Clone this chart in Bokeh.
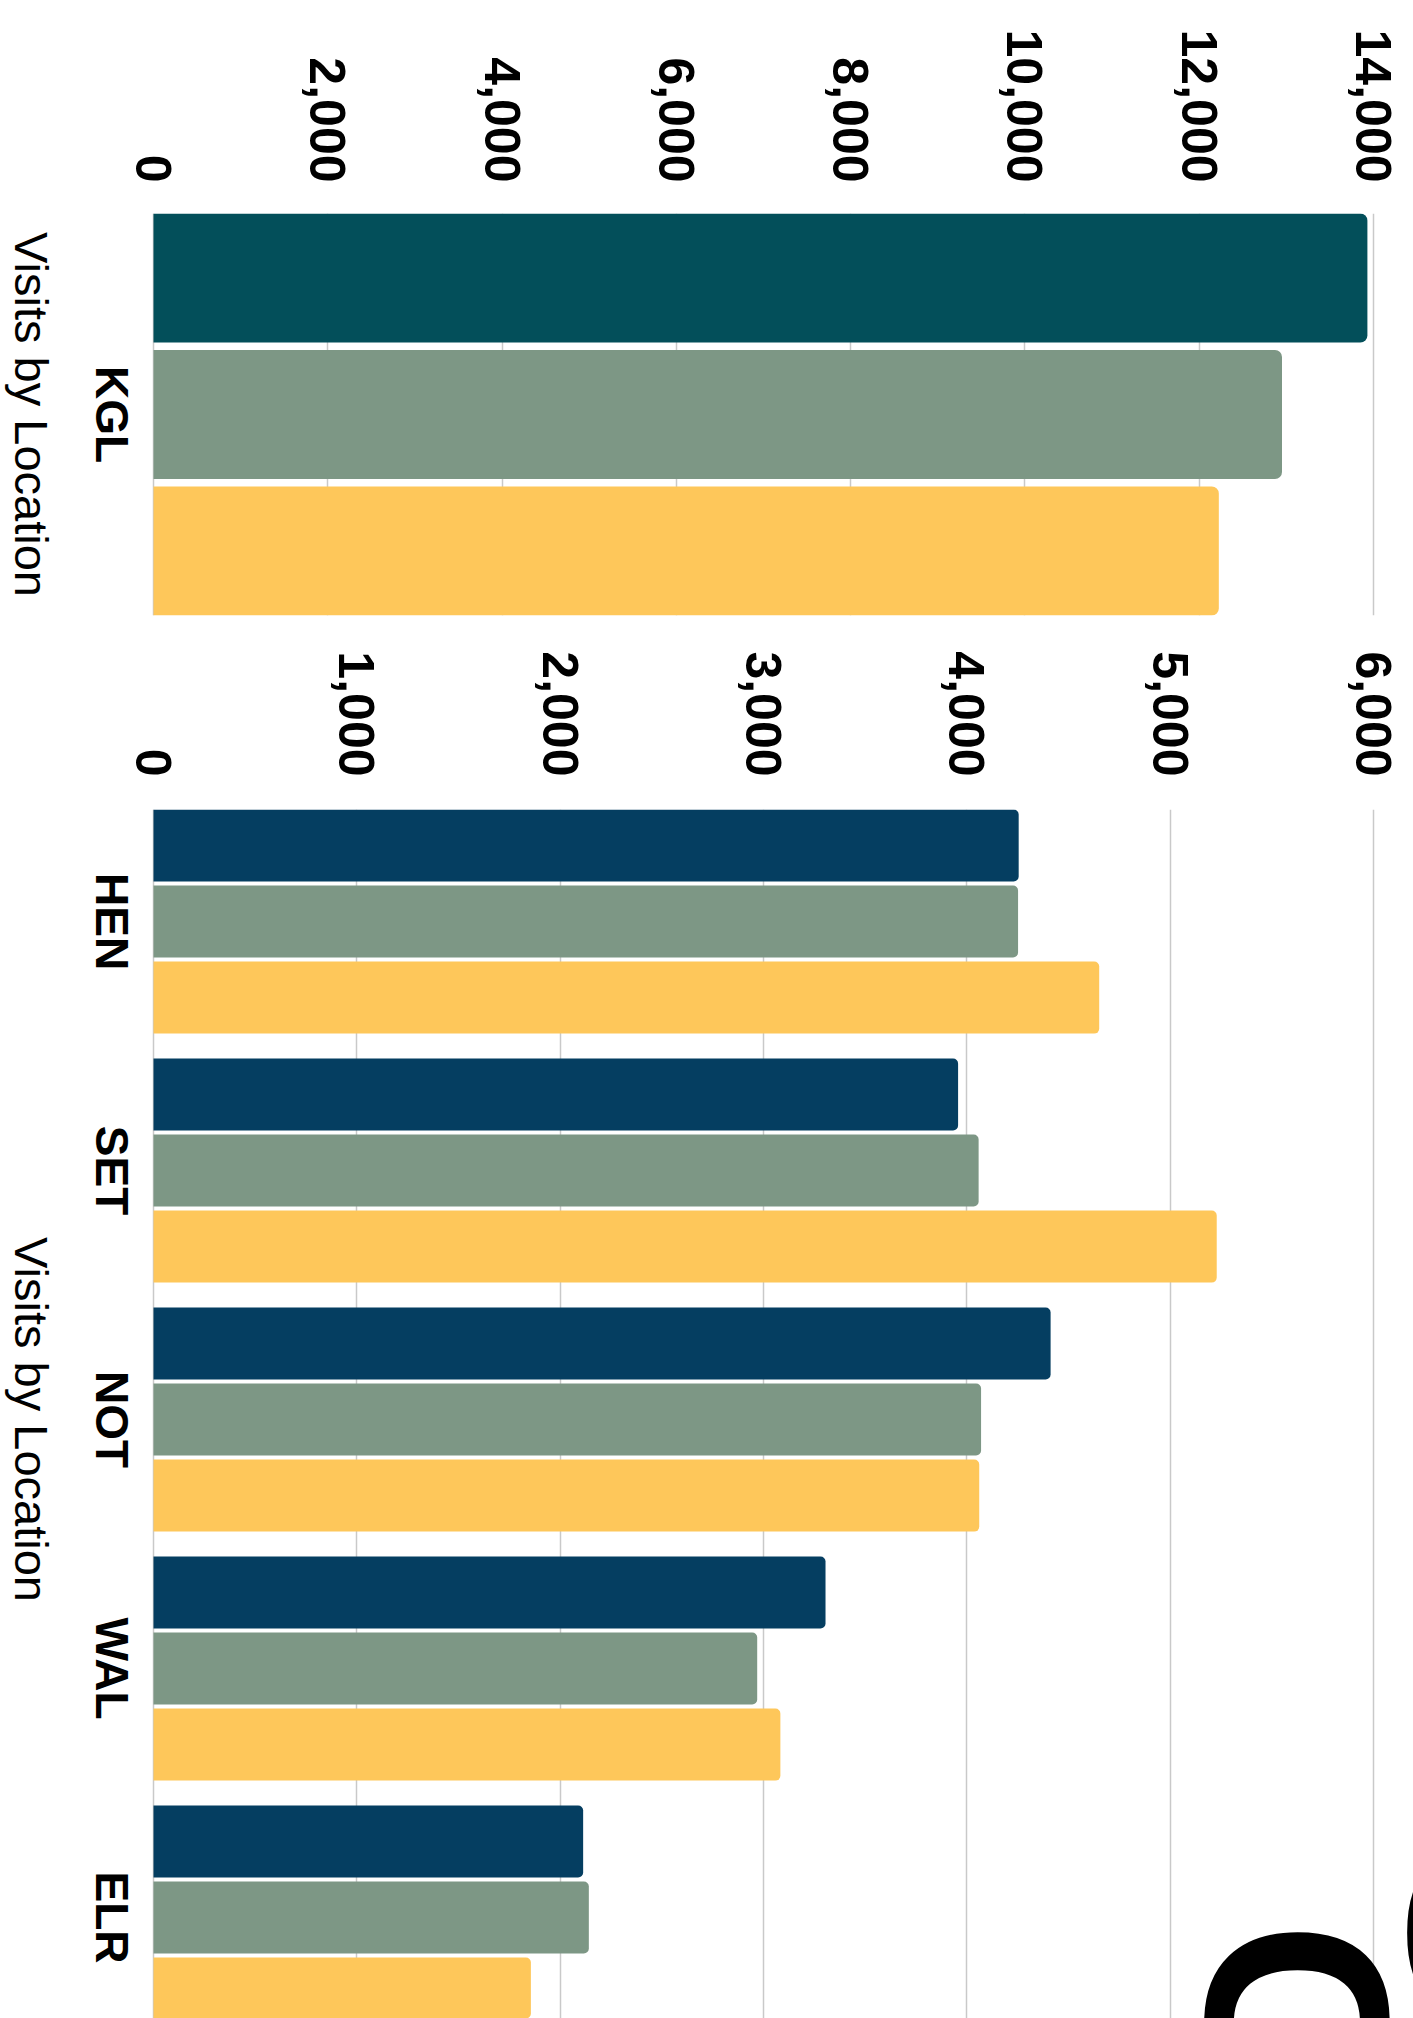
from math import pi

from bokeh.embed import file_html
from bokeh.layouts import column
from bokeh.models import ColumnDataSource, FixedTicker, Label, NumeralTickFormatter, Range1d
from bokeh.plotting import figure
from bokeh.resources import INLINE

# ---- data -----------------------------------------------------------------
# Largest site, shown on its own scale
top_sites = ["KGL"]
top_period_1 = [13930]
top_period_2 = [12950]
top_period_3 = [12225]
top_ticks = [0, 2000, 4000, 6000, 8000, 10000, 12000, 14000]

# Remaining sites
sites = ["HEN", "SET", "NOT", "WAL", "ELR"]
period_1 = [4255, 3957, 4412, 3305, 2113]
period_2 = [4252, 4058, 4070, 2969, 2141]
period_3 = [4651, 5229, 4061, 3083, 1856]
bottom_ticks = [0, 1000, 2000, 3000, 4000, 5000, 6000]

axis_title = "Visits by Location"
title_lines = ["Site Visits", "Comparison"]

# ---- styling ----------------------------------------------------------------
TEAL = "#034F5A"
NAVY = "#053E61"
SAGE = "#7D9785"
GOLD = "#FEC75A"
GRID = "#c9c9c9"
FONT = "Liberation Sans"

PAGE_W = 1413
ZERO_PX = 153          # where the value axis starts
SCALE_W = 1220         # pixels from 0 to the last tick

CAT_LABEL_PX = 111     # centre line of the rotated site names
AXIS_TITLE_PX = 31     # centre line of the rotated axis title
DOWN = -pi / 2         # text reads top to bottom


def px_to_value(px, x_end):
    """Horizontal page pixel -> value on an axis whose last tick is x_end."""
    return (px - ZERO_PX) / SCALE_W * x_end


def full_width_range(x_end):
    # the frame spans the whole page so the side texts are not clipped
    return Range1d(px_to_value(0, x_end), px_to_value(PAGE_W, x_end))


def grouped_hbars(p, names, series, colors, group_frac, gap_frac, radius):
    """Draw one bar per series for every category, stacked top to bottom."""
    n = len(series)
    bar_h = (group_frac - (n - 1) * gap_frac) / n
    for j, (vals, color) in enumerate(zip(series, colors)):
        ys = [i - group_frac / 2 + bar_h / 2 + j * (bar_h + gap_frac) for i in range(len(names))]
        src = ColumnDataSource(dict(y=ys, right=vals))
        p.hbar(y="y", left=0, right="right", height=bar_h, source=src,
               fill_color=color, line_color=None,
               border_radius=(0, radius, radius, 0))


def side_labels(p, names, x_end, title_y):
    """Site names and axis title, set vertically left of the bars."""
    for i, name in enumerate(names):
        p.add_layout(Label(x=px_to_value(CAT_LABEL_PX, x_end), y=i, text=name, angle=DOWN,
                           text_font=FONT, text_font_size="46px", text_font_style="bold",
                           text_color="black", text_align="center", text_baseline="middle"))
    p.add_layout(Label(x=px_to_value(AXIS_TITLE_PX, x_end), y=title_y, text=axis_title, angle=DOWN,
                       text_font=FONT, text_font_size="47px", text_font_style="normal",
                       text_color="black", text_align="center", text_baseline="middle"))


def style_panel(p, ticks, tick_standoff):
    p.outline_line_color = None
    p.background_fill_color = "white"
    p.border_fill_color = "white"
    p.ygrid.visible = False
    p.yaxis.visible = False

    xa = p.xaxis[0]
    xa.ticker = FixedTicker(ticks=ticks)
    xa.formatter = NumeralTickFormatter(format="0,0")
    xa.major_label_orientation = DOWN
    xa.major_label_text_font = FONT
    xa.major_label_text_font_size = "50px"
    xa.major_label_text_font_style = "bold"
    xa.major_label_text_color = "black"
    xa.major_label_standoff = tick_standoff
    xa.axis_line_color = None
    xa.major_tick_line_color = None
    xa.minor_tick_line_color = None
    xa.major_tick_in = 0
    xa.major_tick_out = 0

    p.xgrid.ticker = xa.ticker
    p.xgrid.grid_line_color = GRID
    p.xgrid.grid_line_width = 1.5


# ---- top panel: KGL ---------------------------------------------------------
TOP_END = top_ticks[-1]
p1 = figure(width=PAGE_W, height=640,
            x_range=full_width_range(TOP_END), y_range=Range1d(0.5, -0.5),
            x_axis_location="above", toolbar_location=None, output_backend="svg",
            min_border_left=0, min_border_right=0,
            min_border_top=213, min_border_bottom=25)
grouped_hbars(p1, top_sites, [top_period_1, top_period_2, top_period_3],
              [TEAL, SAGE, GOLD], group_frac=1.0, gap_frac=7.5 / 402, radius=7)
style_panel(p1, top_ticks, tick_standoff=31)
side_labels(p1, top_sites, TOP_END, title_y=0)

# ---- bottom panel: other sites ----------------------------------------------
BOTTOM_END = bottom_ticks[-1]
BAND_PX = 249          # pixels per category row
FRAME_TOP_PX = 169     # frame top inside this panel
P2_H = 2018 - 640
visible_rows = (P2_H - FRAME_TOP_PX) / BAND_PX
p2 = figure(width=PAGE_W, height=P2_H,
            x_range=full_width_range(BOTTOM_END), y_range=Range1d(-0.45 + visible_rows, -0.45),
            x_axis_location="above", toolbar_location=None, output_backend="svg",
            min_border_left=0, min_border_right=0,
            min_border_top=FRAME_TOP_PX, min_border_bottom=0)
grouped_hbars(p2, sites, [period_1, period_2, period_3],
              [NAVY, SAGE, GOLD], group_frac=0.9, gap_frac=4 / BAND_PX, radius=5)
style_panel(p2, bottom_ticks, tick_standoff=33)
side_labels(p2, sites, BOTTOM_END, title_y=(len(sites) - 1) / 2)


# Heading, set vertically down the right-hand side
def to_y(py):
    return -0.45 + (py - 640 - FRAME_TOP_PX) / BAND_PX


HEAD_SIZE = 262
for text, baseline_px, start_px in [(title_lines[0], 1408, 1845), (title_lines[1], 1205, 1921)]:
    centre_px = baseline_px + 0.35 * HEAD_SIZE
    p2.add_layout(Label(x=px_to_value(centre_px, BOTTOM_END), y=to_y(start_px), text=text,
                        angle=DOWN, text_font=FONT, text_font_size=f"{HEAD_SIZE}px",
                        text_font_style="bold", text_color="black",
                        text_align="left", text_baseline="middle"))

layout = column(p1, p2, spacing=0)
open("out.html", "w").write(file_html(layout, INLINE))
